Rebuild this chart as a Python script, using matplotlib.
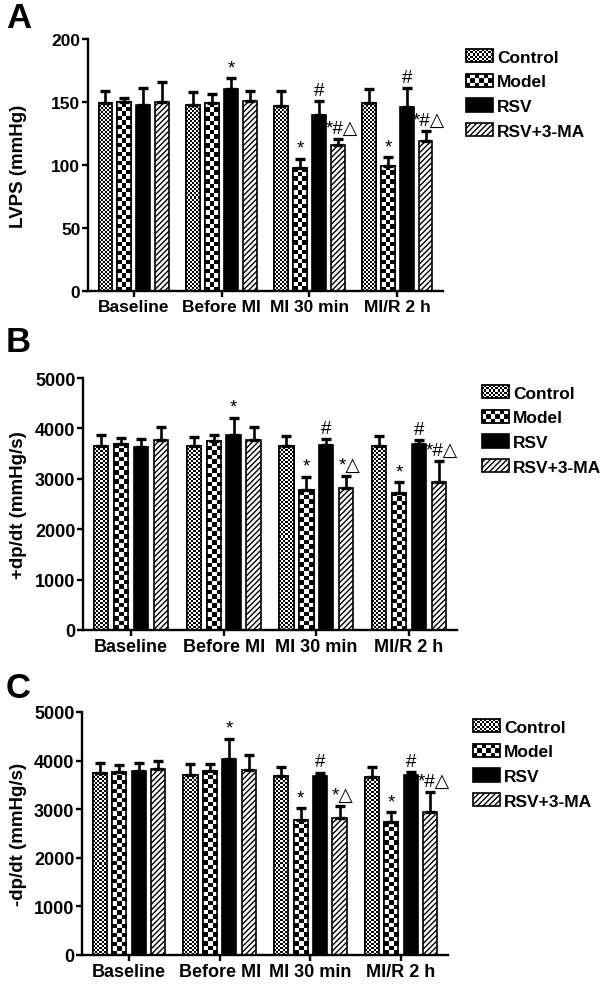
import numpy as np
import matplotlib
matplotlib.use('Agg')
import matplotlib.pyplot as plt
from matplotlib.patches import Rectangle
from matplotlib.collections import PatchCollection
from matplotlib.legend_handler import HandlerBase

plt.rcParams['font.family'] = ['Liberation Sans', 'DejaVu Sans']
plt.rcParams['font.weight'] = 'bold'
plt.rcParams['axes.labelweight'] = 'bold'
plt.rcParams['hatch.linewidth'] = 1.0

# data
groups = ['Baseline', 'Before MI', 'MI 30 min', 'MI/R 2 h']
series = ['Control', 'Model', 'RSV', 'RSV+3-MA']

lvps_mean = {
    'Control':  [149, 148, 147, 149],
    'Model':    [150, 149, 98, 99],
    'RSV':      [148, 160, 140, 146],
    'RSV+3-MA': [150, 151, 116, 119],
}
lvps_err = {
    'Control':  [10, 10, 12, 11],
    'Model':    [3, 7, 7, 7],
    'RSV':      [13, 9, 11, 15],
    'RSV+3-MA': [16, 8, 5, 8],
}

pdpdt_mean = {
    'Control':  [3650, 3650, 3660, 3650],
    'Model':    [3700, 3750, 2770, 2725],
    'RSV':      [3630, 3870, 3680, 3695],
    'RSV+3-MA': [3760, 3770, 2815, 2935],
}
pdpdt_err = {
    'Control':  [210, 180, 185, 195],
    'Model':    [100, 120, 265, 210],
    'RSV':      [165, 340, 100, 80],
    'RSV+3-MA': [265, 250, 245, 410],
}

ndpdt_mean = {
    'Control':  [3750, 3695, 3680, 3660],
    'Model':    [3775, 3795, 2780, 2730],
    'RSV':      [3795, 4040, 3680, 3695],
    'RSV+3-MA': [3830, 3810, 2820, 2950],
}
ndpdt_err = {
    'Control':  [205, 225, 185, 205],
    'Model':    [125, 140, 240, 205],
    'RSV':      [155, 410, 75, 70],
    'RSV+3-MA': [170, 295, 240, 400],
}

# significance marks (group index -> label) per series
marks_a = {
    'Model':    {2: '*', 3: '*'},
    'RSV':      {1: '*', 2: '#', 3: '#'},
    'RSV+3-MA': {2: '*#\u25b3', 3: '*#\u25b3'},
}
marks_bc = {
    'Model':    {2: '*', 3: '*'},
    'RSV':      {1: '*', 2: '#', 3: '#'},
    'RSV+3-MA': {2: '*\u25b3', 3: '*#\u25b3'},
}

W, H = 602, 987


class CheckerHandler(HandlerBase):
    def __init__(self, nx, ny, **kw):
        super().__init__(**kw)
        self.nx = nx
        self.ny = ny

    def create_artists(self, legend, orig_handle, xdescent, ydescent,
                       width, height, fontsize, trans):
        x0, y0 = -xdescent, -ydescent
        bg = Rectangle((x0, y0), width, height, facecolor='white',
                       edgecolor='none', transform=trans)
        dx, dy = width / self.nx, height / self.ny
        sq = [Rectangle((x0 + i * dx, y0 + j * dy), dx, dy)
              for i in range(self.nx) for j in range(self.ny) if (i + j) % 2 == 0]
        pc = PatchCollection(sq, facecolor='black', edgecolor='none', transform=trans)
        border = Rectangle((x0, y0), width, height, facecolor='none',
                           edgecolor='black', lw=1.3, transform=trans)
        return [bg, pc, border]


def px_axes(left, right, top, bottom):
    return [left / W, 1 - bottom / H, (right - left) / W, (bottom - top) / H]


def checker_fill(ax, bars, sq_px):
    for b in bars:
        x0, w, h = b.get_x(), b.get_width(), b.get_height()
        p0 = ax.transData.transform((x0, 0))
        p1 = ax.transData.transform((x0 + w, h))
        nx = max(1, int(round((p1[0] - p0[0]) / sq_px)))
        ny = max(1, int(round((p1[1] - p0[1]) / sq_px)))
        arr = np.indices((ny, nx)).sum(0) % 2
        im = ax.imshow(arr, cmap='gray', vmin=0, vmax=1, origin='lower',
                       extent=(x0, x0 + w, 0, h), interpolation='nearest',
                       aspect='auto', zorder=1.5)
        im.set_clip_path(b)


def panel(fig, rect, means, errs, marks, ylim, yticks, ylabel, xlim,
          letter, letter_xy, leg_xy, ticksize=13):
    ax = fig.add_axes(rect)
    ax.set_xlim(*xlim)
    ax.set_ylim(*ylim)
    x = np.arange(len(groups))
    width, step = 0.155, 0.215
    conts = {}
    for i, s in enumerate(series):
        xs = x + (i - 1.5) * step
        if s == 'RSV':
            kw = dict(facecolor='black')
        elif s == 'RSV+3-MA':
            kw = dict(facecolor='white', hatch='//////')
        else:
            kw = dict(facecolor='white')
        c = ax.bar(xs, means[s], width, edgecolor='black', linewidth=1.2,
                   label=s, zorder=1, **kw)
        conts[s] = c
        ax.errorbar(xs, means[s], yerr=[np.zeros(len(groups)), errs[s]],
                    fmt='none', ecolor='black', elinewidth=1.9, capsize=3.8,
                    capthick=2.4, zorder=3)
        for gi, txt in marks.get(s, {}).items():
            dx = 2.5 if len(txt) > 1 else 0
            ax.annotate(txt, (xs[gi], means[s][gi] + errs[s][gi]),
                        xytext=(dx, 1.5), textcoords='offset points',
                        ha='center', va='bottom', fontsize=13.5,
                        fontweight='normal', zorder=4)
    # fills for the checkered series, then edges above them
    checker_fill(ax, conts['Control'], 2.0)
    checker_fill(ax, conts['Model'], 4.5)
    for s in ('Control', 'Model'):
        for b in conts[s]:
            ax.add_patch(Rectangle((b.get_x(), 0), b.get_width(), b.get_height(),
                                   facecolor='none', edgecolor='black',
                                   linewidth=1.2, zorder=2))

    for sp in ('top', 'right'):
        ax.spines[sp].set_visible(False)
    for sp in ('left', 'bottom'):
        ax.spines[sp].set_linewidth(1.7)
    ax.set_yticks(yticks)
    ax.set_xticks(x)
    ax.set_xticklabels(groups)
    ax.tick_params(axis='y', direction='out', length=4.5, width=1.7,
                   labelsize=ticksize, pad=1)
    ax.tick_params(axis='x', direction='out', length=4, width=1.7,
                   labelsize=ticksize, pad=1.5)
    ax.set_ylabel(ylabel, fontsize=13.5)
    bbox = ax.get_position()
    ax.yaxis.set_label_coords((27 - bbox.x0 * W) / (bbox.width * W), 0.5)

    fig.text(letter_xy[0] / W, 1 - letter_xy[1] / H, letter, fontsize=25,
             fontweight='bold', ha='left', va='baseline')

    handles = [conts[s] for s in series]
    ax.legend(handles, series, loc='upper left',
              bbox_to_anchor=(leg_xy[0] / W, 1 - leg_xy[1] / H),
              bbox_transform=fig.transFigure, frameon=False, fontsize=12.5,
              handlelength=1.55, handleheight=0.8, handletextpad=0.25,
              labelspacing=0.52, borderpad=0, borderaxespad=0,
              handler_map={conts['Control']: CheckerHandler(12, 6),
                           conts['Model']: CheckerHandler(6, 3)})
    return ax


fig = plt.figure(figsize=(W / 100, H / 100), dpi=100)

panel(fig, px_axes(88, 443, 40, 292), lvps_mean, lvps_err, marks_a,
      (0, 200), [0, 50, 100, 150, 200], 'LVPS (mmHg)', (-0.52, 3.52),
      'A', (6, 28), (466, 50), ticksize=12.5)
panel(fig, px_axes(83, 457, 379, 631), pdpdt_mean, pdpdt_err, marks_bc,
      (0, 5000), [0, 1000, 2000, 3000, 4000, 5000], '+dp/dt (mmHg/s)',
      (-0.52, 3.52), 'B', (6, 352), (482, 386))
panel(fig, px_axes(82, 448, 713, 956), ndpdt_mean, ndpdt_err, marks_bc,
      (0, 5000), [0, 1000, 2000, 3000, 4000, 5000], '-dp/dt (mmHg/s)',
      (-0.52, 3.52), 'C', (6, 698), (473, 720))

fig.savefig('out.png', dpi=100, facecolor='white')
